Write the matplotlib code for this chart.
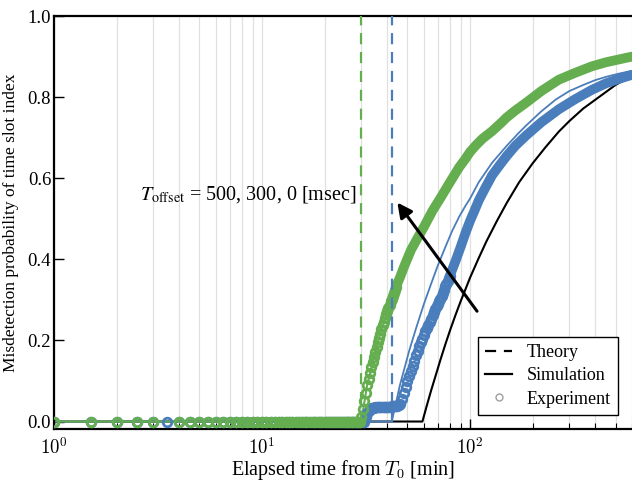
import matplotlib
matplotlib.use("Agg")
import matplotlib.pyplot as plt
from matplotlib.lines import Line2D
import numpy as np

plt.rcParams['font.family'] = 'serif'
plt.rcParams['font.serif'] = ['Liberation Serif', 'DejaVu Serif']
plt.rcParams['mathtext.fontset'] = 'cm'

GREEN = '#64ae4f'
BLUE = '#4a7dbb'

# theory thresholds [min] (T_offset = 500, 300)
theory_t = [30, 42]
theory_colors = [GREEN, BLUE]

# simulation curves
sim_black_t = [1, 59, 62, 65, 68, 72, 76, 80, 85, 90, 95, 100, 110, 120, 135, 150, 172,
               200, 230, 267, 300, 350, 416, 500, 600]
sim_black_v = [0, 0, 0.04, 0.077, 0.11, 0.152, 0.19, 0.224, 0.262, 0.296, 0.326, 0.355,
               0.403, 0.445, 0.496, 0.539, 0.59, 0.637, 0.676, 0.715, 0.741, 0.772, 0.80,
               0.83, 0.853]

sim_blue_t = [1, 42, 44, 46, 48, 51, 55, 60, 65, 70, 76, 82, 88.6, 95, 100, 110, 127.5,
              150, 170, 186, 220, 258, 300, 350, 400, 450, 520, 600]
sim_blue_v = [0, 0, 0.045, 0.09, 0.125, 0.175, 0.23, 0.29, 0.34, 0.385, 0.43, 0.47, 0.505,
              0.532, 0.55, 0.59, 0.638, 0.68, 0.71, 0.73, 0.765, 0.794, 0.815, 0.83, 0.842,
              0.85, 0.858, 0.865]

sim_green_t = [1, 30, 32, 37.4, 44, 52, 60, 72.6, 88.6, 100, 127.5, 150, 186, 267, 385, 600]
sim_green_v = [0, 0, 0.09, 0.226, 0.332, 0.423, 0.48, 0.554, 0.627, 0.665, 0.716, 0.75,
               0.786, 0.843, 0.876, 0.9]

# experiment: flat part sampled every 0.5 min
exp_flat_t = np.arange(1, 30, 0.5)
exp_green_flat_t = exp_flat_t[exp_flat_t != 3.5]  # sample missing in green run
exp_blue_flat_t = np.arange(1, 31.5, 0.5)

# green rising part, every 0.5 min from 30 to 44
exp_green_rise_t = np.arange(30, 44.5, 0.5)
exp_green_rise_v = [0.01, 0.03, 0.05, 0.07, 0.09, 0.105, 0.12, 0.135, 0.148, 0.16,
                    0.172, 0.184, 0.195, 0.206, 0.217, 0.227, 0.237, 0.246, 0.255, 0.264,
                    0.272, 0.28, 0.288, 0.296, 0.303, 0.31, 0.318, 0.325, 0.332]
# green dense band
exp_green_band_t = [44, 46, 48, 50, 52, 56, 60, 66, 72.6, 80, 88.6, 95, 100, 107, 115,
                    127.5, 140, 150, 165, 185.6, 220, 267, 320, 385, 450, 520, 600]
exp_green_band_v = [0.332, 0.355, 0.38, 0.402, 0.423, 0.453, 0.48, 0.52, 0.554, 0.59,
                    0.627, 0.648, 0.665, 0.682, 0.698, 0.716, 0.735, 0.75, 0.767, 0.786,
                    0.815, 0.843, 0.86, 0.876, 0.886, 0.893, 0.9]

# blue plateau, every 0.5 min from 31.5 to 45.5
exp_blue_plat_t = np.arange(31.5, 46, 0.5)
exp_blue_plat_v = [0.01, 0.02, 0.027, 0.031, 0.033, 0.034, 0.034, 0.035, 0.035, 0.035,
                   0.035, 0.035, 0.036, 0.036, 0.036, 0.036, 0.036, 0.037, 0.037, 0.037,
                   0.037, 0.038, 0.038, 0.038, 0.039, 0.039, 0.039, 0.04, 0.04]
# blue rising part, every 1 min from 46 to 80
exp_blue_rise_t = np.arange(46, 81, 1)
exp_blue_rise_v = [0.042, 0.055, 0.07, 0.085, 0.1, 0.113, 0.125, 0.138, 0.15, 0.163,
                   0.175, 0.185, 0.195, 0.204, 0.213, 0.222, 0.23, 0.238, 0.246, 0.254,
                   0.262, 0.27, 0.277, 0.284, 0.29, 0.297, 0.303, 0.31, 0.318, 0.325,
                   0.333, 0.34, 0.347, 0.353, 0.36]
exp_blue_band_t = [80, 85, 90, 95, 100, 105, 110, 118, 127.5, 140, 150, 165, 185.6, 220,
                   267, 320, 385, 450, 520, 600]
exp_blue_band_v = [0.36, 0.395, 0.43, 0.465, 0.495, 0.52, 0.545, 0.575, 0.607, 0.635,
                   0.655, 0.68, 0.705, 0.738, 0.77, 0.795, 0.818, 0.834, 0.845, 0.855]

fig = plt.figure(figsize=(6.32, 4.84), dpi=100)
ax = fig.add_axes([0.0854, 0.1136, 0.9146, 0.8533])

ax.set_xscale('log')
ax.set_xlim(1, 600)
ax.set_ylim(-0.0185, 1.0)

ax.grid(True, which='both', axis='x', color='#e0e0e0', lw=0.9)
ax.set_axisbelow(True)

mk = dict(marker='o', ls='none', ms=6.2, mfc='none', mew=2.0)

# simulations
ax.plot(sim_black_t, sim_black_v, color='black', lw=1.5, zorder=2)
ax.plot(sim_blue_t, sim_blue_v, color=BLUE, lw=1.3, zorder=2)
ax.plot(sim_green_t, sim_green_v, color=GREEN, lw=1.5, zorder=2)

# blue experiment
ax.plot(exp_blue_flat_t, np.zeros(len(exp_blue_flat_t)), color=BLUE, zorder=3, **mk)
ax.plot(exp_blue_plat_t, exp_blue_plat_v, color=BLUE, zorder=3, **mk)
ax.plot(exp_blue_rise_t, exp_blue_rise_v, color=BLUE, zorder=3, **mk)
ax.plot(exp_blue_band_t, exp_blue_band_v, color=BLUE, lw=7, solid_capstyle='round', zorder=3)

# green experiment
ax.plot(exp_green_flat_t, np.zeros(len(exp_green_flat_t)), color=GREEN, zorder=3, **mk)
ax.plot(exp_green_rise_t, exp_green_rise_v, color=GREEN, zorder=3, **mk)
ax.plot(exp_green_band_t, exp_green_band_v, color=GREEN, lw=7, solid_capstyle='round', zorder=3)

# theory
for t, c in zip(theory_t, theory_colors):
    ax.vlines(t, 0, 1, colors=c, linestyles=(0, (5, 3.5)), lw=1.6, zorder=4)

ax.annotate('', xy=(44.7, 0.54), xytext=(108, 0.272),
            arrowprops=dict(arrowstyle='-|>', color='black', lw=2.2,
                            mutation_scale=22, shrinkA=0, shrinkB=0), zorder=5)
ax.text(2.6, 0.56, r'$T_{\mathrm{offset}}$ = 500, 300, 0 [msec]', fontsize=14.5,
        ha='left', va='center', math_fontfamily='stix')

ax.set_xticks([1, 10, 100])
ax.set_xticklabels([r'$10^0$', r'$10^1$', r'$10^2$'])
ax.set_yticks([0, 0.2, 0.4, 0.6, 0.8, 1.0])
ax.set_yticklabels(['0.0', '0.2', '0.4', '0.6', '0.8', '1.0'])
ax.tick_params(which='both', direction='in', top=False, right=False)
ax.tick_params(which='major', length=7, width=1.0)
ax.tick_params(which='minor', length=4, width=0.8)
ax.tick_params(axis='x', labelsize=13.5, pad=6)
ax.tick_params(axis='y', labelsize=13.5, pad=2)

for s in ['top', 'left', 'bottom']:
    ax.spines[s].set_linewidth(1.6)
ax.spines['right'].set_visible(False)

ax.set_xlabel(r'Elapsed time from $T_0$ [min]', fontsize=14.5, labelpad=0)
ax.set_ylabel('Misdetection probability of time slot index', fontsize=12.5, labelpad=6)

handles = [Line2D([], [], color='black', ls=(0, (5, 3.5)), lw=1.6),
           Line2D([], [], color='black', lw=1.6),
           Line2D([], [], color='#a0a0a0', marker='o', ls='none', ms=5, mfc='none', mew=1.0)]
leg = ax.legend(handles, ['Theory', 'Simulation', 'Experiment'], loc='lower right',
                bbox_to_anchor=(0.976, 0.034), borderaxespad=0, fontsize=13,
                fancybox=False, framealpha=1, edgecolor='black', borderpad=0.4,
                labelspacing=0.35, handlelength=1.5, handletextpad=0.8)
leg.get_frame().set_linewidth(1.0)

fig.savefig('out.png', dpi=100)
